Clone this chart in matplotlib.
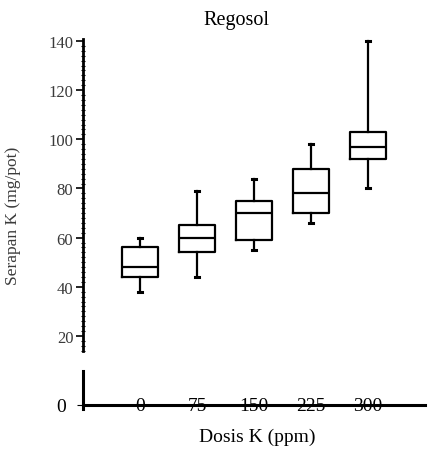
import matplotlib
matplotlib.use("Agg")
import matplotlib.pyplot as plt
from matplotlib.ticker import MultipleLocator

plt.rcParams["font.family"] = ["Liberation Serif", "DejaVu Serif"]

# data
dosis = ["0", "75", "150", "225", "300"]
whis_lo = [38, 44, 55, 66, 80]
q1 = [44, 54, 59, 70, 92]
median = [48, 60, 70, 78, 97]
q3 = [56, 65, 75, 88, 103]
whis_hi = [60, 79, 84, 98, 140]

stats = []
for i in range(len(dosis)):
    stats.append({"med": median[i], "q1": q1[i], "q3": q3[i],
                  "whislo": whis_lo[i], "whishi": whis_hi[i],
                  "fliers": [], "label": dosis[i]})

W, H = 429, 452
fig = plt.figure(figsize=(W / 100, H / 100), dpi=100)

# upper part (20..140)
ax = fig.add_axes([83 / W, (H - 352) / H, 342 / W, 312 / H])
lw = 1.6
ax.bxp(stats, positions=range(len(dosis)), widths=0.62, capwidths=0.07,
       boxprops=dict(color="black", linewidth=lw),
       medianprops=dict(color="black", linewidth=lw),
       whiskerprops=dict(color="black", linewidth=lw),
       capprops=dict(color="black", linewidth=2.2))
ax.set_xlim(-1, 5.0)
ax.set_ylim(13.9, 140.8)
for s in ["top", "right", "bottom"]:
    ax.spines[s].set_visible(False)
ax.spines["left"].set_linewidth(2)
ax.set_xticks([])
ax.yaxis.set_minor_locator(MultipleLocator(2))
ax.set_yticks(range(20, 141, 20))
ax.tick_params(axis="y", which="major", direction="out", length=5, width=1.2,
               labelsize=12, labelcolor="#3a3a3a", pad=2)
ax.tick_params(axis="y", which="minor", direction="inout", length=3, width=0.8)
ax.set_ylabel("Serapan K (mg/pot)", fontsize=12.5, color="#3a3a3a")
ax.yaxis.set_label_coords(-0.18, 0.436)
ax.set_title("Regosol", fontsize=14.5, x=0.45, pad=11)

# lower part (0)
ax2 = fig.add_axes([83 / W, (H - 410) / H, 342 / W, 38 / H])
ax2.set_xlim(-1, 5.0)
ax2.set_ylim(-1, 8.5)
ax2.spines["bottom"].set_position(("data", 0))
ax2.spines["bottom"].set_linewidth(2.2)
ax2.spines["left"].set_linewidth(2.2)
for s in ["top", "right"]:
    ax2.spines[s].set_visible(False)
ax2.set_xticks(range(len(dosis)))
ax2.set_xticklabels(dosis)
ax2.tick_params(axis="x", length=0, labelsize=14, pad=-5.5)
ax2.set_yticks([0])
ax2.tick_params(axis="y", direction="out", length=4, labelsize=14, pad=8)
ax2.set_xlabel("Dosis K (ppm)", fontsize=14)
ax2.xaxis.set_label_coords(0.509, -0.5)

fig.savefig("out.png", dpi=100)
